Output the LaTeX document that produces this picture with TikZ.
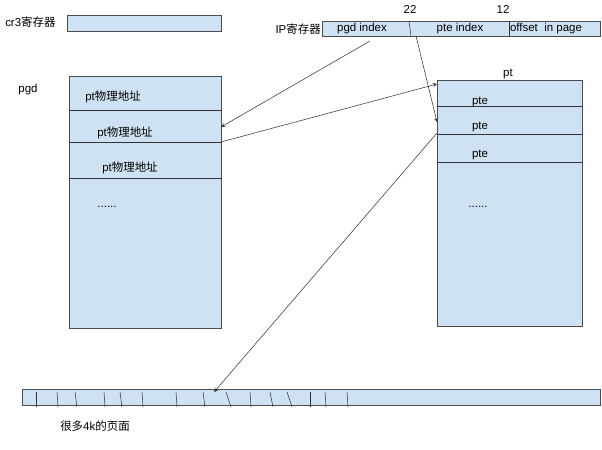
\documentclass[tikz,border=0pt]{standalone}
\usepackage{fontspec}
\setmainfont{Liberation Sans}
\newfontfamily\cjk{Noto Sans CJK SC}
\begin{document}
\begin{tikzpicture}[x=0.75pt,y=-0.75pt,
  ln/.style={draw=black!80,line width=0.4pt},
  lbl/.style={font=\fontsize{8.6}{10}\selectfont,inner sep=0pt},
  arr/.style={->,>=stealth,draw=black!80,line width=0.4pt}]
\definecolor{bx}{RGB}{207,226,243}
\tikzset{box/.style={draw=black!70,fill=bx,line width=0.5pt}}
\useasboundingbox (0,0) rectangle (602,449);
% cr3
\node[lbl,anchor=west] (cr3l) at (5,22) {cr3{\cjk 寄存器}};
\path[box] (67,15) rectangle (221,31);
% IP register
\path[box] (322,21) rectangle (600,36);
\node[lbl,anchor=east] (ipl) at (321,29) {IP{\cjk 寄存器}};
\draw[ln] (409,21) -- (411,36);
\draw[ln] (509,21) -- (509,36);
\node[lbl] (n22) at (410,9) {22};
\node[lbl] (n12) at (503,9) {12};
\node[lbl] (pgdi) at (362,29) {pgd index};
\node[lbl] (ptei) at (460,29) {pte index};
\node[lbl] (off) at (546,29) {offset\ \ in page};
% pgd
\node[lbl] (pgdl) at (28,90) {pgd};
\path[box] (69,76) rectangle (221,328);
\draw[ln] (69,110) -- (221,110);
\draw[ln] (69,142) -- (221,142);
\draw[ln] (69,178) -- (221,178);
\node[lbl] (p1) at (113,97) {pt{\cjk 物理地址}};
\node[lbl] (p2) at (125,133) {pt{\cjk 物理地址}};
\node[lbl] (p3) at (130,168) {pt{\cjk 物理地址}};
\node[lbl] (pd) at (107,207) {......};
% pt
\node[lbl] (ptl) at (508,74) {pt};
\path[box] (437,80) rectangle (582,326);
\draw[ln] (437,106) -- (582,106);
\draw[ln] (437,134) -- (582,134);
\draw[ln] (437,162) -- (582,162);
\node[lbl] (t1) at (480,102) {pte};
\node[lbl] (t2) at (480,127) {pte};
\node[lbl] (t3) at (480,155) {pte};
\node[lbl] (td) at (478,207) {......};
% pages strip
\path[box] (22,389) rectangle (600,405);
\foreach \a/\b in {36/36,57/58,75/77,104/105,120/122,142/143,176/177,203/205,226/231,250/251,270/273,287/292,310/310,325/326,347/348}
  \draw[ln] (\a,392) -- (\b,407);
\node[lbl] (pgs) at (95,426) {{\cjk 很多}4k{\cjk 的页面}};
% arrows
\coordinate (a1s) at (370,41); \coordinate (a1e) at (221,127);
\coordinate (a2s) at (221,142); \coordinate (a2e) at (437,84);
\coordinate (a3s) at (416,36); \coordinate (a3e) at (437,122);
\coordinate (a4s) at (437,133); \coordinate (a4e) at (214,392);
\draw[arr] (a1s) -- (a1e);
\draw[arr] (a2s) -- (a2e);
\draw[arr] (a3s) -- (a3e);
\draw[arr] (a4s) -- (a4e);
\end{tikzpicture}
\end{document}
